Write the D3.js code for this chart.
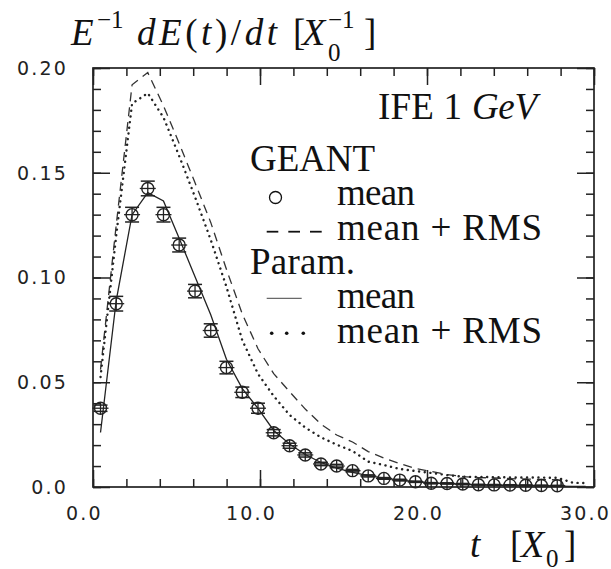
<!DOCTYPE html>
<html>
<head>
  <script src="https://d3js.org/d3.v7.min.js"></script>
  <style>
    html, body { margin: 0; padding: 0; background: white; }
    .tick-label { font-family: "DejaVu Sans", sans-serif; font-size: 19px; letter-spacing: 2.2px; fill: #222; }
  </style>
</head>
<body>
<script>
  const width = 611;
  const height = 569;
  const margin = {top: 68, left: 93, right: 17, bottom: 82};

  // depth grid in radiation lengths (bin centres)
  const tValues = [0.45, 1.39, 2.34, 3.28, 4.22, 5.16, 6.11, 7.05, 7.99, 8.94,
                   9.88, 10.82, 11.77, 12.71, 13.65, 14.59, 15.54, 16.48, 17.42, 18.37,
                   19.31, 20.25, 21.20, 22.14, 23.08, 24.02, 24.97, 25.91, 26.85, 27.80,
                   28.74, 29.50];

  // GEANT mean (circles) and its error
  const geantMean = [0.0376, 0.0875, 0.1300, 0.1425, 0.1300, 0.1155, 0.0935, 0.0747, 0.0570, 0.0452,
                     0.0376, 0.0259, 0.0197, 0.0153, 0.0110, 0.0100, 0.0078, 0.0053, 0.0041, 0.0033,
                     0.0025, 0.0018, 0.0017, 0.0014, 0.0011, 0.0010, 0.0009, 0.0008, 0.0007, 0.0006];
  const geantErr = [0.0015, 0.0035, 0.0035, 0.0035, 0.0035, 0.0033, 0.0032, 0.0032, 0.0030, 0.0025,
                    0.0024, 0.0015, 0.0012, 0.0010, 0.0008, 0.0008, 0.0006, 0.0005, 0.0004, 0.0004,
                    0.0003, 0.0003, 0.0003, 0.0003, 0.0002, 0.0002, 0.0002, 0.0002, 0.0002, 0.0002];
  // GEANT mean + RMS (dashed)
  const geantRms = [0.056, 0.125, 0.192, 0.1978, 0.182, 0.164, 0.1452, 0.1263, 0.1039, 0.0826,
                    0.0660, 0.0541, 0.0455, 0.0372, 0.0300, 0.0248, 0.0215, 0.0169, 0.0138, 0.0112,
                    0.0088, 0.0074, 0.0059, 0.0050, 0.0045, 0.0043, 0.0040, 0.0038, 0.0036, 0.0034];
  // Param. mean (solid)
  const paramMean = [0.026, 0.089, 0.130, 0.1405, 0.1365, 0.1187, 0.1004, 0.0822, 0.0610, 0.0470,
                     0.0375, 0.0270, 0.0205, 0.0155, 0.0117, 0.0090, 0.0070, 0.0054, 0.0042, 0.0033,
                     0.0026, 0.0020, 0.0016, 0.0013, 0.0010, 0.0008, 0.0007, 0.0006, 0.0005, 0.0004,
                     0.0003, 0.0003];
  // Param. mean + RMS (dotted)
  const paramRms = [0.0525, 0.120, 0.183, 0.188, 0.1764, 0.158, 0.1384, 0.118, 0.0956, 0.0700,
                    0.0540, 0.0434, 0.0344, 0.0284, 0.0237, 0.0202, 0.0172, 0.0121, 0.0105, 0.0086,
                    0.0076, 0.0067, 0.0057, 0.0049, 0.0048, 0.0047, 0.0046, 0.0045, 0.0045, 0.0044,
                    0.0020, 0.0019];

  const xMajor = [0, 10, 20, 30];
  const xMinor = d3.range(0, 31, 2);
  const yMajor = [0, 0.05, 0.10, 0.15, 0.20];
  const yMinor = d3.range(0, 0.2001, 0.01);
  const xLabels = ["0.0", "10.0", "20.0", "30.0"];
  const yLabels = ["0.0", "0.05", "0.10", "0.15", "0.20"];

  const svg = d3.select("body").append("svg")
    .attr("width", width)
    .attr("height", height);

  const x = d3.scaleLinear().domain([0, 30]).range([margin.left, width - margin.right]);
  const y = d3.scaleLinear().domain([0, 0.20]).range([height - margin.bottom, margin.top]);

  // ticks on all four sides, pointing inwards
  function ticks(axisFn, scale, values, len, tr) {
    const g = svg.append("g")
      .attr("transform", tr)
      .call(axisFn(scale).tickValues(values).tickSize(-len).tickFormat(""));
    g.select(".domain").remove();
    g.selectAll("line").attr("stroke", "#222").attr("stroke-width", 1.5);
  }
  const x0 = margin.left, x1 = width - margin.right;
  const y0 = height - margin.bottom, y1 = margin.top;
  ticks(d3.axisBottom, x, xMinor, 8, `translate(0,${y0})`);
  ticks(d3.axisBottom, x, xMajor, 17, `translate(0,${y0})`);
  ticks(d3.axisTop, x, xMinor, 8, `translate(0,${y1})`);
  ticks(d3.axisTop, x, xMajor, 17, `translate(0,${y1})`);
  ticks(d3.axisLeft, y, yMinor, 8, `translate(${x0},0)`);
  ticks(d3.axisLeft, y, yMajor, 17, `translate(${x0},0)`);
  ticks(d3.axisRight, y, yMinor, 8, `translate(${x1},0)`);
  ticks(d3.axisRight, y, yMajor, 17, `translate(${x1},0)`);

  svg.append("rect")
    .attr("x", x0).attr("y", y1)
    .attr("width", x1 - x0).attr("height", y0 - y1)
    .attr("fill", "none").attr("stroke", "#222").attr("stroke-width", 1.7);

  // tick labels
  svg.selectAll(".xl").data(xMajor).enter().append("text")
    .attr("class", "tick-label")
    .attr("x", d => x(d) - 8.5)
    .attr("y", y0 + 33)
    .attr("text-anchor", "middle")
    .text((d, i) => xLabels[i]);
  svg.selectAll(".yl").data(yMajor).enter().append("text")
    .attr("class", "tick-label")
    .attr("x", x0 - 25)
    .attr("y", d => y(d))
    .attr("dy", "0.36em")
    .attr("text-anchor", "end")
    .text((d, i) => yLabels[i]);

  // curves
  const line = d3.line().x((d, i) => x(tValues[i])).y(d => y(d));
  svg.append("path").datum(geantRms).attr("d", line)
    .attr("fill", "none").attr("stroke", "#333").attr("stroke-width", 1.3)
    .attr("stroke-dasharray", "9,6");
  svg.append("path").datum(paramRms).attr("d", line)
    .attr("fill", "none").attr("stroke", "#222").attr("stroke-width", 2.4)
    .attr("stroke-linecap", "round").attr("stroke-dasharray", "0.1,5.6");
  svg.append("path").datum(paramMean).attr("d", line)
    .attr("fill", "none").attr("stroke", "#222").attr("stroke-width", 1.3);

  // GEANT points with error bars
  const pts = svg.selectAll(".pt").data(geantMean).enter().append("g")
    .attr("transform", (d, i) => `translate(${x(tValues[i])},${y(d)})`);
  const r = 6;
  pts.append("circle").attr("r", r)
    .attr("fill", "none").attr("stroke", "#222").attr("stroke-width", 1.4);
  pts.append("line")
    .attr("x1", -8).attr("x2", 8)
    .attr("stroke", "#222").attr("stroke-width", 1.3);
  pts.append("line")
    .attr("y1", (d, i) => -Math.max(r, y(0) - y(geantErr[i])))
    .attr("y2", (d, i) => Math.max(r, y(0) - y(geantErr[i])))
    .attr("stroke", "#222").attr("stroke-width", 1.3);
  [-1, 1].forEach(s => {
    pts.append("line")
      .attr("x1", -7).attr("x2", 7)
      .attr("y1", (d, i) => s * (y(0) - y(geantErr[i])))
      .attr("y2", (d, i) => s * (y(0) - y(geantErr[i])))
      .attr("stroke", "#222").attr("stroke-width", 1.5);
  });

  // title and axis label (serif, TeX-like)
  const T = (xx, yy, str, size, italic, len) => {
    const t = svg.append("text")
      .attr("x", xx).attr("y", yy)
      .attr("fill", "#111")
      .style("font-family", '"Liberation Serif"')
      .style("font-size", size + "px")
      .style("font-style", italic ? "italic" : "normal")
      .text(str);
    if (len) t.attr("textLength", len).attr("lengthAdjust", "spacing");
    return t;
  };
  T(71, 45, "E", 37, true);
  T(97, 28, "\u22121", 25, false);
  const mid = svg.append("text")
    .attr("x", 137).attr("y", 45).attr("fill", "#111")
    .style("font-family", '"Liberation Serif"').style("font-size", "37px")
    .attr("textLength", 140).attr("lengthAdjust", "spacing");
  [["dE", true], ["(", false], ["t", true], [")/", false], ["dt", true]].forEach(p => {
    mid.append("tspan").style("font-style", p[1] ? "italic" : "normal").text(p[0]);
  });
  T(293, 45, "[", 37, false);
  T(302, 45, "X", 38, true);
  T(328, 61, "0", 25, false);
  T(328, 28, "\u22121", 25, false);
  T(364, 45, "]", 37, false);

  T(470, 557, "t", 37, true);
  T(510, 557, "[", 37, false);
  T(521, 557, "X", 38, true);
  T(546, 567, "0", 25, false);
  T(564, 557, "]", 37, false);

  // annotation and legend
  T(378, 119, "IFE 1", 37, false, 84);
  T(472, 119, "GeV", 37, true, 65);

  T(250, 171, "GEANT", 37, false, 125);
  T(337, 205, "mean", 37, false, 78);
  T(337, 240, "mean + RMS", 37, false, 205);
  T(250, 274, "Param.", 37, false, 105);
  T(337, 308, "mean", 37, false, 78);
  T(337, 343, "mean + RMS", 37, false, 205);

  svg.append("circle").attr("cx", 275.5).attr("cy", 197.5).attr("r", 6)
    .attr("fill", "none").attr("stroke", "#111").attr("stroke-width", 1.3);
  [[266.7, 278.3], [288.3, 300], [310, 321.7]].forEach(s => {
    svg.append("line").attr("x1", s[0]).attr("x2", s[1]).attr("y1", 231.7).attr("y2", 231.7)
      .attr("stroke", "#111").attr("stroke-width", 1.8);
  });
  svg.append("line").attr("x1", 266.7).attr("x2", 301.7).attr("y1", 298.3).attr("y2", 298.3)
    .attr("stroke", "#444").attr("stroke-width", 1);
  [271.7, 286.7, 303.3].forEach(cx => {
    svg.append("circle").attr("cx", cx).attr("cy", 333.3).attr("r", 1.8).attr("fill", "#111");
  });
</script>
</body>
</html>
